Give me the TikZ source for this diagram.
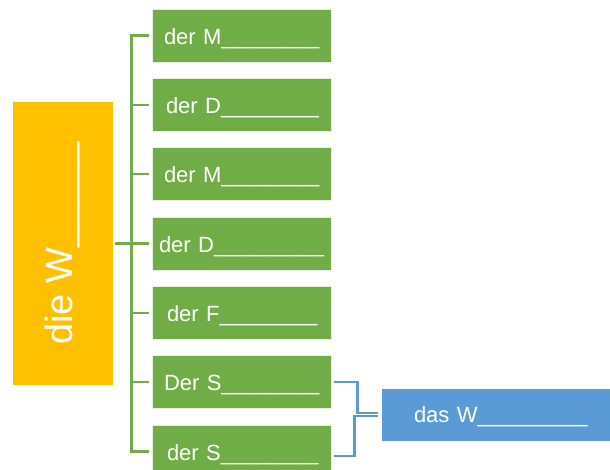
\documentclass[tikz,border=0pt]{standalone}
\usepackage{fontspec}
\setmainfont{Liberation Sans}
\definecolor{wgreen}{HTML}{70AD47}
\definecolor{wyellow}{HTML}{FFC000}
\definecolor{wblue}{HTML}{5B9BD5}
\tikzset{
  gbox/.style={fill=wgreen, draw=white!85!wgreen, line width=0.8pt, text=white,
    minimum height=53pt, inner xsep=12pt, text width=155pt, align=left,
    text height=17.6pt, text depth=0pt, font=\fontsize{22}{26}\selectfont},
  gline/.style={draw=wgreen, line width=2.5pt},
  bline/.style={draw=wblue, line width=2.3pt},
}
\begin{document}
\begin{tikzpicture}[x=1pt, y=-1pt]
  \useasboundingbox (0,0) rectangle (610,470);

  %left box
  \node [fill=wyellow, text=white, rotate=90, minimum width=283pt, minimum height=100pt,
    font=\fontsize{38}{46}\selectfont] (dieW) at (63,243.5) {die W\_\_\_\_\_};

  %green boxes
  \node [gbox] (g1) at (241.5,35.5) {der~M\_\_\_\_\_\_\_\_};
  \node [gbox, inner xsep=14pt, text width=151pt] (g2) at (241.5,105) {der~D\_\_\_\_\_\_\_\_};
  \node [gbox] (g3) at (241.5,174) {der~M\_\_\_\_\_\_\_\_};
  \node [gbox, inner xsep=7pt, text width=165pt] (g4) at (241.5,243.5) {der~D\_\_\_\_\_\_\_\_\_};
  \node [gbox, inner xsep=15pt, text width=149pt] (g5) at (241.5,313) {der~F\_\_\_\_\_\_\_\_};
  \node [gbox] (g6) at (241.5,382) {Der~S\_\_\_\_\_\_\_\_};
  \node [gbox, inner xsep=15pt, text width=149pt] (g7) at (241.5,451.5) {der~S\_\_\_\_\_\_\_\_};

  %right box
  \node [fill=wblue, text=white, minimum height=52pt, inner xsep=32pt, text width=164pt,
    align=left, text height=14.6pt, text depth=0pt,
    font=\fontsize{22}{26}\selectfont] (dasW) at (496,415) {das~W\_\_\_\_\_\_\_\_\_};

  %green bracket
  \draw [gline] ([xshift=-3pt]g1.west) -| ([xshift=-20pt]g7.west) -- ([xshift=-3pt]g7.west);
  \draw [gline] ([xshift=-3pt]g2.west) -- ++(-18,0);
  \draw [gline] ([xshift=-3pt]g3.west) -- ++(-18,0);
  \draw [gline] ([xshift=-3pt]g5.west) -- ++(-18,0);
  \draw [gline] ([xshift=-3pt]g6.west) -- ++(-18,0);
  \draw [gline] ([xshift=2pt]dieW.south) -- ([xshift=-3pt]g4.west);

  %blue bracket
  \draw [bline] ([xshift=3pt]g6.east) -- ++(23,0) |- ([xshift=-4pt,yshift=2pt]dasW.west);
  \draw [bline] ([xshift=3pt,yshift=-4.5pt]g7.east) -- ++(20,0) |- ([xshift=-4pt,yshift=-1pt]dasW.west);

\end{tikzpicture}
\end{document}
